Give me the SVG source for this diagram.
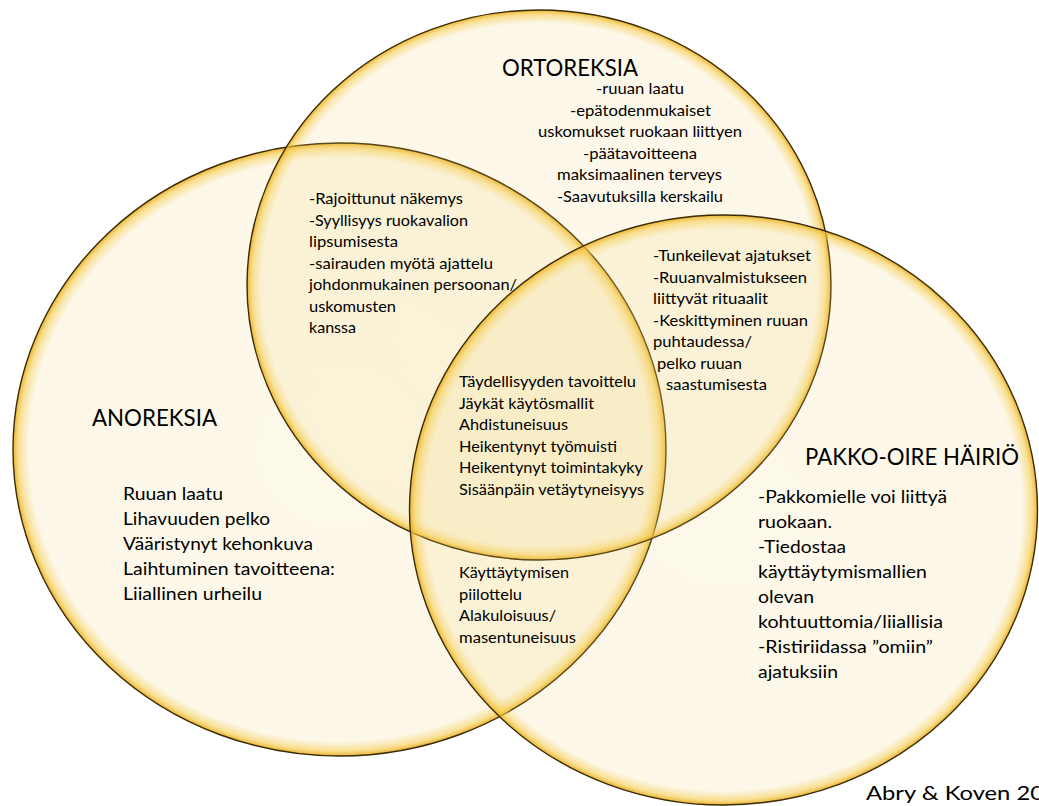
<svg xmlns="http://www.w3.org/2000/svg" width="1039" height="806" viewBox="0 0 1039 806">
<style>
.c{stroke:#3a2b06;stroke-width:1.4}
text{font-family:Lato,"Liberation Sans",sans-serif;fill:#000}
.h{font-size:23.5px}
.s{font-size:16.2px}
.m{font-size:18px}
.ab{font-size:19.5px}
</style>
<defs>
<radialGradient id="g" cx="50%" cy="50%" r="50%">
<stop offset="0" stop-color="rgb(240,212,120)" stop-opacity="0.15"/>
<stop offset="0.95" stop-color="rgb(240,212,120)" stop-opacity="0.17"/>
<stop offset="0.983" stop-color="rgb(246,202,72)" stop-opacity="0.6"/>
<stop offset="1" stop-color="rgb(232,172,30)" stop-opacity="0.92"/>
</radialGradient>
</defs>
<rect width="1039" height="806" fill="#fff"/>
<g id="circle-anoreksia"><ellipse class="c" cx="339.5" cy="449.5" rx="326.5" ry="306.5" fill="url(#g)"/></g>
<g id="circle-ortoreksia"><ellipse class="c" cx="539" cy="285" rx="292" ry="275" fill="url(#g)"/></g>
<g id="circle-pakko-oire"><ellipse class="c" cx="723.5" cy="510" rx="314" ry="295" fill="url(#g)"/></g>
<g id="connectors"/>
<g id="ortoreksia">
<text class="h" x="502" y="76" textLength="136" lengthAdjust="spacingAndGlyphs">ORTOREKSIA</text>
<text class="s" x="640" y="94" text-anchor="middle" textLength="88" lengthAdjust="spacingAndGlyphs">-ruuan laatu</text>
<text class="s" x="640.5" y="116" text-anchor="middle" textLength="141" lengthAdjust="spacingAndGlyphs">-epätodenmukaiset</text>
<text class="s" x="640" y="137" text-anchor="middle" textLength="204" lengthAdjust="spacingAndGlyphs">uskomukset ruokaan liittyen</text>
<text class="s" x="640" y="159" text-anchor="middle" textLength="114" lengthAdjust="spacingAndGlyphs">-päätavoitteena</text>
<text class="s" x="639.5" y="180" text-anchor="middle" textLength="165" lengthAdjust="spacingAndGlyphs">maksimaalinen terveys</text>
<text class="s" x="640" y="202" text-anchor="middle" textLength="166" lengthAdjust="spacingAndGlyphs">-Saavutuksilla kerskailu</text>
</g>
<g id="anoreksia-ortoreksia">
<text class="s" x="309" y="204" textLength="154" lengthAdjust="spacingAndGlyphs">-Rajoittunut näkemys</text>
<text class="s" x="309" y="225.5" textLength="159" lengthAdjust="spacingAndGlyphs">-Syyllisyys ruokavalion</text>
<text class="s" x="309" y="247" textLength="89" lengthAdjust="spacingAndGlyphs">lipsumisesta</text>
<text class="s" x="309" y="268.5" textLength="184" lengthAdjust="spacingAndGlyphs">-sairauden myötä ajattelu</text>
<text class="s" x="309" y="290" textLength="208" lengthAdjust="spacingAndGlyphs">johdonmukainen persoonan/</text>
<text class="s" x="309" y="311.5" textLength="87" lengthAdjust="spacingAndGlyphs">uskomusten</text>
<text class="s" x="309" y="333" textLength="47" lengthAdjust="spacingAndGlyphs">kanssa</text>
</g>
<g id="ortoreksia-pakko-oire">
<text class="s" x="653" y="261" textLength="158" lengthAdjust="spacingAndGlyphs">-Tunkeilevat ajatukset</text>
<text class="s" x="653" y="282.5" textLength="154" lengthAdjust="spacingAndGlyphs">-Ruuanvalmistukseen</text>
<text class="s" x="653" y="304" textLength="115" lengthAdjust="spacingAndGlyphs">liittyvät rituaalit</text>
<text class="s" x="653" y="325.5" textLength="155" lengthAdjust="spacingAndGlyphs">-Keskittyminen ruuan</text>
<text class="s" x="653" y="347" textLength="99" lengthAdjust="spacingAndGlyphs">puhtaudessa/</text>
<text class="s" x="657" y="368.5" textLength="85" lengthAdjust="spacingAndGlyphs">pelko ruuan</text>
<text class="s" x="666" y="390" textLength="101" lengthAdjust="spacingAndGlyphs">saastumisesta</text>
</g>
<g id="kaikki">
<text class="s" x="459" y="387" textLength="177" lengthAdjust="spacingAndGlyphs">Täydellisyyden tavoittelu</text>
<text class="s" x="459" y="408.5" textLength="135" lengthAdjust="spacingAndGlyphs">Jäykät käytösmallit</text>
<text class="s" x="459" y="430" textLength="109" lengthAdjust="spacingAndGlyphs">Ahdistuneisuus</text>
<text class="s" x="459" y="451.5" textLength="158" lengthAdjust="spacingAndGlyphs">Heikentynyt työmuisti</text>
<text class="s" x="459" y="473" textLength="184" lengthAdjust="spacingAndGlyphs">Heikentynyt toimintakyky</text>
<text class="s" x="459" y="494.5" textLength="185" lengthAdjust="spacingAndGlyphs">Sisäänpäin vetäytyneisyys</text>
</g>
<g id="anoreksia-pakko-oire">
<text class="s" x="459" y="578" textLength="110" lengthAdjust="spacingAndGlyphs">Käyttäytymisen</text>
<text class="s" x="459" y="599.5" textLength="63" lengthAdjust="spacingAndGlyphs">piilottelu</text>
<text class="s" x="459" y="621" textLength="97" lengthAdjust="spacingAndGlyphs">Alakuloisuus/</text>
<text class="s" x="459" y="642.5" textLength="117" lengthAdjust="spacingAndGlyphs">masentuneisuus</text>
</g>
<g id="anoreksia">
<text class="h" x="92" y="426" textLength="125" lengthAdjust="spacingAndGlyphs">ANOREKSIA</text>
<text class="m" x="123" y="500" textLength="100" lengthAdjust="spacingAndGlyphs">Ruuan laatu</text>
<text class="m" x="123" y="525" textLength="147" lengthAdjust="spacingAndGlyphs">Lihavuuden pelko</text>
<text class="m" x="123" y="550" textLength="190" lengthAdjust="spacingAndGlyphs">Vääristynyt kehonkuva</text>
<text class="m" x="123" y="575" textLength="212" lengthAdjust="spacingAndGlyphs">Laihtuminen tavoitteena:</text>
<text class="m" x="123" y="600" textLength="139" lengthAdjust="spacingAndGlyphs">Liiallinen urheilu</text>
</g>
<g id="pakko-oire">
<text class="h" x="805" y="465" textLength="214" lengthAdjust="spacingAndGlyphs">PAKKO-OIRE HÄIRIÖ</text>
<text class="m" x="758" y="503" textLength="189" lengthAdjust="spacingAndGlyphs">-Pakkomielle voi liittyä</text>
<text class="m" x="758" y="528" textLength="74" lengthAdjust="spacingAndGlyphs">ruokaan.</text>
<text class="m" x="758" y="553" textLength="88" lengthAdjust="spacingAndGlyphs">-Tiedostaa</text>
<text class="m" x="758" y="578" textLength="169" lengthAdjust="spacingAndGlyphs">käyttäytymismallien</text>
<text class="m" x="758" y="603" textLength="56" lengthAdjust="spacingAndGlyphs">olevan</text>
<text class="m" x="758" y="628" textLength="185" lengthAdjust="spacingAndGlyphs">kohtuuttomia/liiallisia</text>
<text class="m" x="758" y="653" textLength="175" lengthAdjust="spacingAndGlyphs">-Ristiriidassa ”omiin”</text>
<text class="m" x="758" y="678" textLength="80" lengthAdjust="spacingAndGlyphs">ajatuksiin</text>
</g>
<g id="lahde">
<text class="ab" x="866" y="800" textLength="178" lengthAdjust="spacingAndGlyphs">Abry &amp; Koven 20</text>
</g>
</svg>
